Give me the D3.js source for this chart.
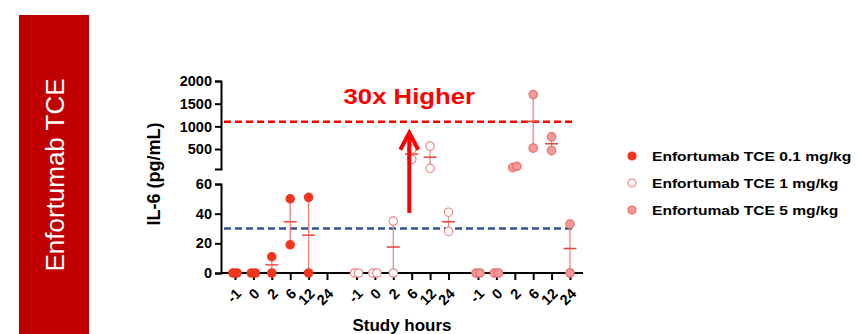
<!DOCTYPE html>
<html>
<head>
  <title>Enfortumab TCE IL-6</title>
  <script src="https://d3js.org/d3.v7.min.js"></script>
  <style>
    body { margin: 0; background: #fff; }
    svg { display: block; font-family: "Liberation Sans", Arial, sans-serif; }
    .axis path, .axis line { stroke: #000; stroke-width: 2; }
    .axis text { font-size: 14.5px; font-weight: bold; fill: #000; }
  </style>
</head>
<body>
  <div id="chart"></div>

  <script>
    // Data (IL-6, pg/mL, two animals per time point)
    const hours = ["-1", "0", "2", "6", "12", "24"];
    const doses = ["Enfortumab TCE 0.1 mg/kg", "Enfortumab TCE 1 mg/kg", "Enfortumab TCE 5 mg/kg"];
    const il6Dose01 = [[0, 0], [0, 0], [11, 0], [50, 19], [51, 0], []];
    const il6Dose1 = [[0, 0], [0, 0], [35, 0], [500, 275], [565, 75], [41, 28]];
    const il6Dose5 = [[0, 0], [0, 0], [90, 120], [1700, 520], [770, 465], [33, 0]];
    const lowTicks = [0, 20, 40, 60];
    const highTicks = [500, 1000, 1500, 2000];
    const baselineLevel = 30;
    const highLevel = 1100;
    const annotation = "30x Higher";

    const series = [il6Dose01, il6Dose1, il6Dose5];

    const width = 859, height = 334;
    const svg = d3.select("#chart").append("svg")
      .attr("width", width)
      .attr("height", height);

    // Side banner
    svg.append("rect")
      .attr("x", 19).attr("y", 15)
      .attr("width", 70).attr("height", height - 15)
      .attr("fill", "#c00000");
    svg.append("text")
      .attr("transform", "translate(55,175) rotate(-90)")
      .attr("text-anchor", "middle")
      .attr("dy", "0.35em")
      .style("font-size", "26px")
      .attr("fill", "#fff")
      .text("Enfortumab TCE");

    // Scales: broken y axis (0-60 lower, 60-2000 upper)
    const axisX = 221;
    const yLow = d3.scaleLinear().domain([0, 60]).range([273, 184]);
    const yHigh = d3.scaleLinear().domain([60, 2000]).range([169, 81]);
    const y = v => v <= 60 ? yLow(v) : yHigh(v);

    const groupX = d3.scalePoint().domain(doses).range([235, 478]);
    const hourX = d3.scalePoint().domain(hours).range([0, 92]);
    const x = (dose, hour) => groupX(dose) + hourX(hour);
    const xEnd = groupX(doses[2]) + 92 + 13;

    // Y axes
    svg.append("g").attr("class", "axis")
      .attr("transform", `translate(${axisX},0)`)
      .call(d3.axisLeft(yLow).tickValues(lowTicks).tickSize(6).tickPadding(3).tickFormat(d3.format("d")));
    svg.append("g").attr("class", "axis")
      .attr("transform", `translate(${axisX},0)`)
      .call(d3.axisLeft(yHigh).tickValues(highTicks).tickSize(6).tickPadding(3).tickFormat(d3.format("d")));

    // X axis: one baseline, ticks per dose group
    svg.append("line")
      .attr("x1", axisX).attr("x2", xEnd)
      .attr("y1", yLow(0)).attr("y2", yLow(0))
      .attr("stroke", "#000").attr("stroke-width", 2);
    doses.forEach(dose => {
      const g = svg.append("g").attr("class", "axis")
        .attr("transform", `translate(${groupX(dose)},${yLow(0)})`)
        .call(d3.axisBottom(hourX).tickSize(7).tickSizeOuter(0));
      g.select(".domain").remove();
      g.selectAll("text")
        .attr("x", 0).attr("y", 0).attr("dy", "0.35em")
        .attr("text-anchor", "end")
        .attr("transform", "translate(3,18) rotate(-45)");
    });

    svg.append("text")
      .attr("x", 402).attr("y", 331)
      .attr("text-anchor", "middle")
      .style("font-size", "17px").style("font-weight", "bold")
      .text("Study hours");

    svg.append("text")
      .attr("transform", "translate(154,174) rotate(-90)")
      .attr("text-anchor", "middle")
      .attr("dy", "0.35em")
      .style("font-size", "18px").style("font-weight", "bold")
      .text("IL-6 (pg/mL)");

    // Reference lines
    const lineX1 = axisX + 3, lineX2 = xEnd - 9;
    [[baselineLevel, "#2f5597"], [highLevel, "#ff0000"]].forEach(([v, c]) => {
      svg.append("line")
        .attr("x1", lineX1).attr("x2", lineX2)
        .attr("y1", y(v)).attr("y2", y(v))
        .attr("stroke", c).attr("stroke-width", 2.5)
        .attr("stroke-dasharray", "7,4");
    });

    // Series styles
    const styles = [
      { fill: "#f2361d", stroke: "#f2361d", bar: "#f47c72", mean: "#f0554a" },
      { fill: "#ffffff", stroke: "#ee8684", bar: "#f08a88", mean: "#e84a40" },
      { fill: "#f49a98", stroke: "#e86c6a", bar: "#ee8482", mean: "#e04a44" }
    ];

    series.forEach((vals, si) => {
      const dose = doses[si];
      const st = styles[si];
      vals.forEach((pts, hi) => {
        if (!pts.length) return;
        const cx = x(dose, hours[hi]);
        const mean = d3.mean(pts);
        const sem = d3.deviation(pts) / Math.sqrt(pts.length);
        // error bar (mean +/- SEM)
        svg.append("line")
          .attr("x1", cx).attr("x2", cx)
          .attr("y1", y(mean - sem)).attr("y2", y(mean + sem))
          .attr("stroke", st.bar).attr("stroke-width", 1.3);
        svg.append("line")
          .attr("x1", cx - 6.5).attr("x2", cx + 6.5)
          .attr("y1", y(mean)).attr("y2", y(mean))
          .attr("stroke", st.mean).attr("stroke-width", 1.6);
        // points, nudged apart when they overlap
        const overlap = pts.length === 2 && Math.abs(y(pts[0]) - y(pts[1])) < 8;
        pts.forEach((v, pi) => {
          const dx = overlap ? (pi === 0 ? -2 : 2) : 0;
          svg.append("circle")
            .attr("cx", cx + dx).attr("cy", y(v))
            .attr("r", 4.2)
            .attr("fill", st.fill)
            .attr("stroke", st.stroke)
            .attr("stroke-width", 1.2);
        });
      });
    });

    // Annotation arrow and label
    const arrowX = x(doses[1], "2") + 16;
    const arrowTop = yHigh(880), arrowBottom = yLow(40.5);
    svg.append("line")
      .attr("x1", arrowX).attr("x2", arrowX)
      .attr("y1", arrowTop + 2).attr("y2", arrowBottom)
      .attr("stroke", "#ff0000").attr("stroke-width", 4);
    svg.append("path")
      .attr("d", `M${arrowX - 9},${arrowTop + 18} L${arrowX},${arrowTop + 1} L${arrowX + 9},${arrowTop + 18}`)
      .attr("fill", "none")
      .attr("stroke", "#ff0000").attr("stroke-width", 4)
      .attr("stroke-linejoin", "miter");
    svg.append("text")
      .attr("transform", `translate(${arrowX},104) scale(1.17,1)`)
      .attr("text-anchor", "middle")
      .style("font-size", "22px").style("font-weight", "bold")
      .attr("fill", "#ff0000")
      .text(annotation);

    // Legend
    const legend = svg.selectAll(".legend")
      .data(doses)
      .enter()
      .append("g")
      .attr("class", "legend")
      .attr("transform", (d, i) => `translate(632,${156 + i * 27})`);
    legend.append("circle")
      .attr("r", 4)
      .attr("fill", (d, i) => styles[i].fill)
      .attr("stroke", (d, i) => styles[i].stroke)
      .attr("stroke-width", 1.2);
    legend.append("text")
      .attr("transform", "translate(20,0) scale(1.2,1)")
      .attr("dy", "0.35em")
      .style("font-size", "13px").style("font-weight", "bold")
      .text(d => d);
  </script>
</body>
</html>
